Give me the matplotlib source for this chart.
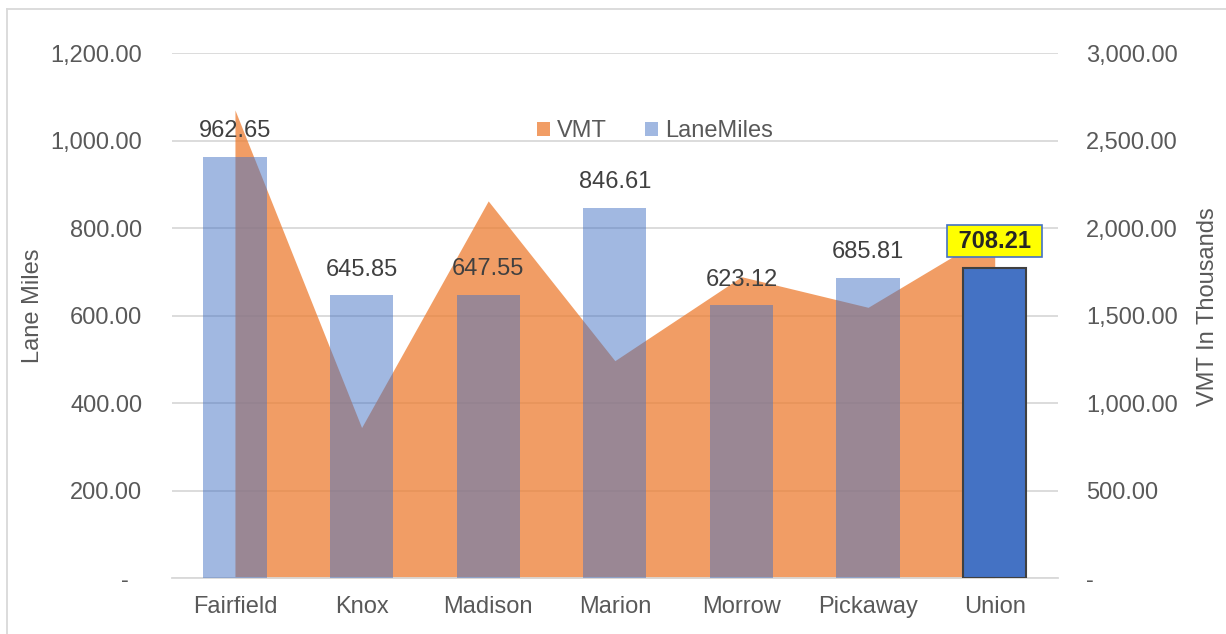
import matplotlib
matplotlib.use("Agg")
import matplotlib.pyplot as plt
from matplotlib.lines import Line2D
from matplotlib.patches import Patch
from matplotlib.ticker import FuncFormatter
import numpy as np

plt.rcParams['font.family'] = ['Liberation Sans', 'DejaVu Sans']

counties = ['Fairfield', 'Knox', 'Madison', 'Marion', 'Morrow', 'Pickaway', 'Union']
lane_miles = [962.65, 645.85, 647.55, 846.61, 623.12, 685.81, 708.21]
vmt = [2675, 860, 2155, 1242, 1722, 1547, 1980]  # thousands

lane_ticks = [0, 200, 400, 600, 800, 1000, 1200]
vmt_ticks = [0, 500, 1000, 1500, 2000, 2500, 3000]

ORANGE = '#ED7D31'
BLUE = '#4472C4'
GRID = '#D9D9D9'
TXT = '#595959'

fig = plt.figure(figsize=(12.26, 6.34), dpi=100)
ax = fig.add_axes([0.140, 0.0883, 0.723, 0.828])
ax2 = ax.twinx()
# bars on top of the area
ax.set_zorder(ax2.get_zorder() + 1)
ax.patch.set_visible(False)

x = np.arange(len(counties))

# VMT area (secondary axis)
ax2.fill_between(x, vmt, 0, color=ORANGE, alpha=0.75, lw=0, zorder=2)
ax2.set_ylim(0, 3000)
ax2.set_yticks(vmt_ticks)
ax2.yaxis.grid(True, color=GRID, lw=1.3, zorder=0)
ax2.set_axisbelow(True)

# Lane miles bars
ax.bar(x[:-1], lane_miles[:-1], width=0.5, color=BLUE, alpha=0.5, lw=0, zorder=3)
ax.bar(x[-1], lane_miles[-1], width=0.5, color=BLUE, edgecolor='#404040', lw=1.5, zorder=3)
ax.set_ylim(0, 1200)
ax.set_yticks(lane_ticks)
ax.set_xlim(-0.5, len(counties) - 0.5)

for i, v in enumerate(lane_miles[:-1]):
    ax.annotate(f'{v:.2f}', (x[i], v), xytext=(0, 18.5), textcoords='offset points',
                ha='center', va='center', fontsize=17, color='#404040', zorder=5)
# highlighted label for Union
ax.annotate(f'\u00a0{lane_miles[-1]:.2f}\u00a0', (x[-1], lane_miles[-1]), xytext=(0, 19.5),
            textcoords='offset points', ha='center', va='center', fontsize=17,
            fontweight='bold', color='#262626', zorder=6,
            bbox=dict(boxstyle='square,pad=0.2', fc='#FFFF00', ec=BLUE, lw=1.2))


def fmt(v, pos):
    return '-' if v == 0 else f'{v:,.2f}'


ax.yaxis.set_major_formatter(FuncFormatter(lambda v, p: '-\u00a0\u00a0' if v == 0 else f'{v:,.2f}'))
ax2.yaxis.set_major_formatter(FuncFormatter(fmt))

ax.set_xticks(x)
ax.set_xticklabels(counties)
ax.tick_params(axis='x', length=0, pad=13, labelsize=17, labelcolor=TXT)
ax.tick_params(axis='y', length=0, pad=21, labelsize=17, labelcolor=TXT)
ax2.tick_params(axis='y', length=0, pad=20, labelsize=17, labelcolor=TXT)

for s in ['top', 'left', 'right']:
    ax.spines[s].set_visible(False)
    ax2.spines[s].set_visible(False)
ax2.spines['bottom'].set_visible(False)
ax.spines['bottom'].set_color(GRID)
ax.spines['bottom'].set_linewidth(1.3)

fig.text(33 / 1226, 1 - 306 / 634, 'Lane Miles', rotation=90, ha='center', va='center',
         fontsize=17, color=TXT)
fig.text(1208 / 1226, 1 - 307 / 634, 'VMT In Thousands', rotation=90, ha='center',
         va='center', fontsize=17, color=TXT)

handles = [Patch(color=ORANGE, alpha=0.75, lw=0), Patch(color=BLUE, alpha=0.5, lw=0)]
ax.legend(handles, ['VMT', 'LaneMiles'], loc='center', bbox_to_anchor=(0.545, 0.851),
          ncol=2, frameon=False, fontsize=17, labelcolor=TXT, handlelength=0.55,
          handleheight=0.55, handletextpad=0.3, columnspacing=1.6)

# chart border
fig.add_artist(Line2D([7 / 1226, 7 / 1226], [0, 1 - 9 / 634], transform=fig.transFigure,
                      color=GRID, lw=1.3))
fig.add_artist(Line2D([7 / 1226, 1], [1 - 9 / 634, 1 - 9 / 634], transform=fig.transFigure,
                      color=GRID, lw=1.3))

fig.savefig('out.png', dpi=100)
